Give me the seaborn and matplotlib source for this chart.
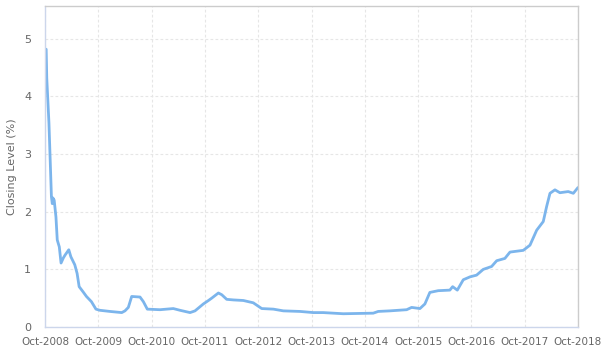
import matplotlib
matplotlib.use("Agg")
import matplotlib.pyplot as plt
import matplotlib.dates as mdates
import seaborn as sns
import pandas as pd

dates = [
    "2008-10-01", "2008-10-05", "2008-10-09", "2008-10-13", "2008-10-28",
    "2008-11-14", "2008-11-20", "2008-11-24", "2008-12-03", "2008-12-15",
    "2008-12-24", "2009-01-07", "2009-01-19", "2009-02-04", "2009-02-16",
    "2009-03-13", "2009-03-27", "2009-04-23", "2009-05-09", "2009-05-23",
    "2009-06-19", "2009-07-12", "2009-08-15", "2009-09-15", "2009-10-12",
    "2009-12-20", "2010-03-11", "2010-04-02", "2010-04-25", "2010-05-18",
    "2010-07-14", "2010-08-06", "2010-09-02", "2010-11-28", "2011-02-27",
    "2011-04-14", "2011-06-22", "2011-07-26", "2011-09-21", "2011-10-26",
    "2011-11-17", "2012-01-02", "2012-01-25", "2012-02-28", "2012-04-13",
    "2012-06-21", "2012-08-28", "2012-10-25", "2013-01-13", "2013-03-22",
    "2013-07-15", "2013-10-14", "2013-12-21", "2014-05-07", "2014-11-28",
    "2015-01-01", "2015-03-22", "2015-07-15", "2015-08-18", "2015-10-14",
    "2015-11-17", "2015-12-21", "2016-02-16", "2016-05-06", "2016-05-25",
    "2016-06-26", "2016-08-06", "2016-09-21", "2016-11-05", "2016-12-21",
    "2017-02-16", "2017-03-23", "2017-05-18", "2017-06-22", "2017-09-21",
    "2017-11-06", "2017-12-22", "2018-02-05", "2018-02-28", "2018-03-23",
    "2018-04-26", "2018-05-30", "2018-07-26", "2018-08-30", "2018-10-01",
]
closing = [
    4.30, 4.82, 4.82, 4.32, 3.54,
    2.26, 2.14, 2.24, 2.20, 1.91,
    1.51, 1.39, 1.11, 1.20, 1.25,
    1.34, 1.22, 1.08, 0.93, 0.70,
    0.61, 0.53, 0.44, 0.31, 0.29,
    0.27, 0.25, 0.28, 0.34, 0.53,
    0.52, 0.44, 0.31, 0.30, 0.32,
    0.29, 0.25, 0.28, 0.40, 0.46,
    0.50, 0.59, 0.56, 0.48, 0.47,
    0.46, 0.42, 0.32, 0.31, 0.28,
    0.27, 0.25, 0.25, 0.23, 0.24,
    0.27, 0.28, 0.30, 0.34, 0.32,
    0.40, 0.60, 0.63, 0.64, 0.70,
    0.64, 0.82, 0.87, 0.90, 1.00,
    1.05, 1.15, 1.19, 1.30, 1.33,
    1.42, 1.68, 1.83, 2.09, 2.32,
    2.38, 2.33, 2.35, 2.32, 2.42,
]
tick_dates = ["2008-10-01", "2009-10-01", "2010-10-01", "2011-10-01", "2012-10-01",
              "2013-10-01", "2014-10-01", "2015-10-01", "2016-10-01", "2017-10-01",
              "2018-10-01"]
y_ticks = [0, 1, 2, 3, 4, 5]

df = pd.DataFrame({"date": pd.to_datetime(dates), "value": closing})

sns.set_style("white")
plt.rcParams['font.family'] = ['DejaVu Sans']

fig = plt.figure(figsize=(6.01, 3.48), dpi=100)
ax = fig.add_axes([45 / 601, 21 / 348, 533 / 601, 321 / 348])

sns.lineplot(data=df, x="date", y="value", ax=ax, color="#7cb5ec", linewidth=2)

ax.set_xlim(pd.Timestamp("2008-10-01"), pd.Timestamp("2018-10-01"))
ax.set_ylim(0, 5.57)
ax.set_yticks(y_ticks)
ax.set_xticks(pd.to_datetime(tick_dates))
ax.xaxis.set_major_formatter(mdates.DateFormatter("%b-%Y"))

ax.grid(True, color="#e6e6e6", linestyle=(0, (2.5, 2)), linewidth=0.8)
ax.set_axisbelow(True)

for side in ["top", "right"]:
    ax.spines[side].set_color("#cccccc")
    ax.spines[side].set_linewidth(1)
for side in ["left", "bottom"]:
    ax.spines[side].set_color("#ccd6eb")
    ax.spines[side].set_linewidth(1)

ax.tick_params(axis="x", colors="#666666", labelsize=7.5, length=5, width=1,
               color="#ccd6eb", pad=2)
ax.tick_params(axis="y", colors="#666666", labelsize=8, length=0, pad=10)
ax.set_xlabel("")
ax.set_ylabel("Closing Level (%)", color="#666666", fontsize=8, labelpad=5)

fig.savefig("out.png", dpi=100)
